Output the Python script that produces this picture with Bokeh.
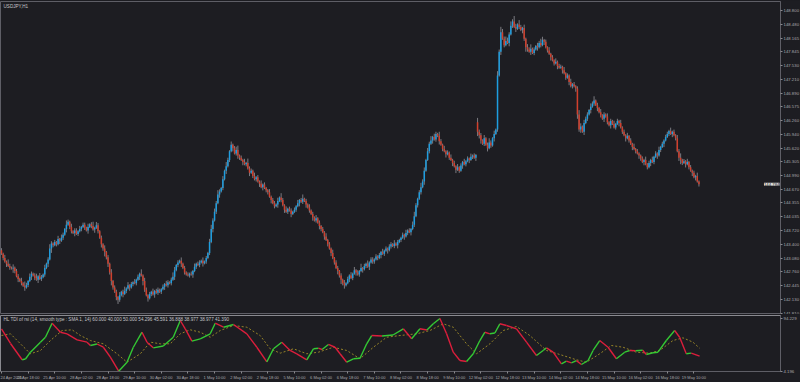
from bokeh.plotting import figure
from bokeh.layouts import column
from bokeh.models import Range1d, FixedTicker, Label, PrintfTickFormatter
from bokeh.embed import file_html
from bokeh.resources import INLINE

symbol_title = "USDJPY,H1"
indicator_title = ("HL TDI of rsi (14, smooth type : SMA 1, 14) 60.000 40.000 50.000 "
                   "54.296 45.591 36.888 38.977 38.977 41.390")
last_price = 144.784
first_open = 143.26
gap_opens = {286: 146.22}

# hourly closes, week by week
close_wk1 = [143.18, 143.08, 143.00, 142.95, 142.90, 142.86, 142.84, 142.86, 142.78, 142.66, 142.60, 142.55, 142.50, 142.44, 142.40, 142.46,
             142.55, 142.65, 142.72, 142.68, 142.62, 142.58, 142.66, 142.60, 142.64, 142.70, 142.85, 142.95, 143.05, 143.30, 143.42, 143.38,
             143.45, 143.40, 143.52, 143.48, 143.55, 143.62, 143.75, 143.85, 143.92, 143.80, 143.70, 143.66, 143.72, 143.64]
close_wk2 = [143.70, 143.75,
             143.80, 143.85, 143.78, 143.72, 143.80, 143.86, 143.82, 143.74, 143.78, 143.84, 143.70, 143.55, 143.40, 143.30, 143.22, 143.10,
             142.95, 142.75, 142.55, 142.40, 142.30, 142.18, 142.12, 142.22, 142.30, 142.25, 142.32, 142.38, 142.45, 142.40, 142.48, 142.52,
             142.50, 142.58, 142.65, 142.72, 142.68, 142.55, 142.35, 142.22, 142.15, 142.25, 142.30, 142.24, 142.32, 142.28, 142.35, 142.30,
             142.36, 142.42, 142.48, 142.45, 142.52, 142.50, 142.58, 142.65, 142.80, 142.92, 142.98, 143.02, 142.95, 142.85, 142.75, 142.70,
             142.68, 142.72, 142.70, 142.78, 142.88, 142.95, 142.92, 142.98, 143.02, 142.96, 143.00, 143.08, 143.20, 143.45, 143.75, 143.95,
             144.15, 144.35, 144.55, 144.62, 144.70, 144.90, 145.10, 145.20, 145.35, 145.55, 145.70, 145.62, 145.50, 145.58, 145.45, 145.40,
             145.35, 145.30, 145.25, 145.28, 145.15, 145.05, 145.10, 144.98, 144.90, 144.95, 144.85, 144.80, 144.72, 144.78, 144.70, 144.65,
             144.60, 144.50, 144.42, 144.35, 144.28, 144.32]
close_wk3 = [144.40, 144.48, 144.42, 144.30, 144.20, 144.15, 144.22, 144.18, 144.10, 144.15,
             144.20, 144.28, 144.35, 144.42, 144.38, 144.45, 144.40, 144.32, 144.25, 144.18, 144.10, 144.02, 143.95, 144.00, 143.90, 143.82,
             143.75, 143.68, 143.58, 143.50, 143.40, 143.30, 143.20, 143.08, 142.98, 142.85, 142.78, 142.68, 142.58, 142.50, 142.45, 142.50,
             142.60, 142.68, 142.62, 142.72, 142.80, 142.75, 142.70, 142.78, 142.85, 142.82, 142.90, 142.95, 142.88, 142.98, 143.05, 143.00,
             143.05, 143.12, 143.08, 143.15, 143.22, 143.18, 143.25, 143.30, 143.26, 143.35, 143.40, 143.36, 143.42, 143.38, 143.45, 143.50,
             143.55, 143.62, 143.58, 143.66, 143.72, 143.68, 143.75, 143.85, 144.05, 144.30, 144.45, 144.60, 144.72, 144.85, 145.10, 145.35,
             145.55, 145.72, 145.80, 145.88, 145.82, 145.95, 145.90, 145.78, 145.70, 145.60, 145.55, 145.48, 145.52, 145.40, 145.35, 145.28,
             145.20, 145.12, 145.18, 145.10, 145.22, 145.30, 145.25, 145.32, 145.38, 145.35, 145.42, 145.45, 145.40, 145.46]
close_wk4 = [146.00, 145.92,
             145.80, 145.72, 145.85, 145.70, 145.62, 145.75, 145.68, 145.85, 145.95, 146.05, 147.30, 147.85, 148.30, 148.15, 148.00, 148.10,
             148.05, 148.25, 148.45, 148.55, 148.42, 148.38, 148.48, 148.42, 148.35, 148.40, 148.15, 147.95, 147.90, 147.85, 147.92, 147.82,
             147.90, 147.98, 147.95, 148.05, 148.00, 148.12, 148.08, 147.95, 147.88, 147.80, 147.72, 147.65, 147.58, 147.62, 147.52, 147.48,
             147.50, 147.42, 147.35, 147.25, 147.30, 147.15, 147.05, 147.10, 147.05, 147.00, 146.40, 146.05, 146.12, 146.00, 146.20, 146.30,
             146.40, 146.50, 146.58, 146.65, 146.72, 146.62, 146.55, 146.45, 146.38, 146.30, 146.40, 146.35, 146.22, 146.15, 146.25, 146.18,
             146.10, 146.18, 146.25, 146.20, 146.10, 146.00, 145.92, 145.85, 145.90, 145.80, 145.72, 145.65, 145.60, 145.55, 145.50, 145.45,
             145.38, 145.30, 145.35, 145.25, 145.18, 145.28, 145.35, 145.30, 145.42, 145.50, 145.45, 145.58, 145.65, 145.72, 145.80, 145.88,
             145.95, 146.02, 145.95, 146.00, 145.92, 145.85]
close_wk5 = [145.55, 145.40, 145.35, 145.28, 145.32, 145.25, 145.30, 145.18, 145.10, 145.05, 144.95, 144.98, 144.85, 144.784]

# wick lengths (units of 0.025 JPY), 16 bars per block
wick_up = ["2131421312213142", "1321241321312421", "2131321421312213", "1221312413212131",
           "2131221312413121", "3121413212131221", "1213212431213121", "2121312213121342",
           "3242131421312341", "2131422131213121", "1312213142131221", "2131241213121312",
           "1213121312212131", "2131312141213122", "1212131212213121", "1213121342124231",
           "3241321421312131", "2131213121312142", "2131242131425324", "3242531421313241",
           "2132431213121312", "2131213121243132", "2132412131213121", "3121312131213121",
           "1213121312131212", "2131213241213121", "2131"]
wick_dn = ["1213121421312131", "2131213121213142", "1213121312213121", "2121312131213242",
           "3242134213121312", "1213142131213121", "2131212131213121", "1213121213121213",
           "1213121312131232", "1312131212131312", "2131213121312131", "1213121312131213",
           "2131213121324231", "1312131213121312", "2121312131212131", "2131213121212131",
           "1213121312131213", "1312131213121343", "3121312131213121", "1312131213242131",
           "2131213121312131", "1312131213423131", "2131213121312131", "1213121312131213",
           "2131213121312131", "1213121342131213", "1312"]
wick_unit = 0.025

# date axis
date_labels = ["24 Apr 2025", "24 Apr 18:00", "25 Apr 10:00", "28 Apr 02:00", "28 Apr 18:00",
               "29 Apr 10:00", "30 Apr 02:00", "30 Apr 18:00", "1 May 10:00", "2 May 02:00",
               "2 May 18:00", "5 May 10:00", "6 May 02:00", "6 May 18:00", "7 May 10:00",
               "8 May 02:00", "8 May 18:00", "9 May 10:00", "12 May 02:00", "12 May 18:00",
               "13 May 10:00", "14 May 02:00", "14 May 18:00", "15 May 10:00", "16 May 02:00",
               "16 May 18:00", "19 May 10:00"]
bars_per_label = 16

price_ticks = [148.800, 148.480, 148.165, 147.845, 147.530, 147.210, 146.890, 146.575,
               146.260, 145.940, 145.620, 145.305, 144.990, 144.670, 144.355, 144.035,
               143.720, 143.400, 143.080, 142.760, 142.445, 142.130, 141.810]
ind_ticks = [94.229, 4.196]

# TDI: RSI line (bar index, value) and signal line
rsi_bar = [0, 5.4, 12.4, 14.4, 17.4, 23.4, 26.4, 30.4, 35.4, 39.4, 45.4, 51.4, 53.4, 57.4, 61.2,
           65.4, 70.4, 75.4, 79.2, 84.4, 87.4, 91.2, 97.2, 103.2, 107.4, 110.4, 114.4, 119.4,
           125.4, 128.4, 133.4, 139.4, 147.4, 153.4, 159.4, 163.4, 168.4, 173.4, 177.4, 183.4,
           187.4, 190.4, 192.6, 196.4, 200.4, 203.4, 207.4, 211.4, 215.4, 219.4, 222.4, 228.6,
           235.2, 241.4, 246.4, 251.4, 255.6, 259.4, 263.4, 267.4, 271.4, 275.4, 279.4, 283.4,
           287.4, 290.4, 293.4, 296.4, 299.4, 303.4, 309.4, 315.4, 321.4, 325.4, 327.4, 331.4,
           336.4, 339.4, 342.4, 345.4, 348.4, 352.4, 355.4, 359.4, 364.4, 369.4, 374.4, 377.4,
           381.0, 385.2, 387.4, 391.4, 394.4, 399.4, 404.4, 407.4, 411.4, 414.4, 419.4]
rsi_val = [76.2, 51.3, 23.6, 24.9, 36.5, 53.5, 61.9, 85.7, 70.4, 67.7, 57.5, 53.5, 47.9, 50.4, 44.9,
           28.0, 4.2, 19.5, 44.9, 70.4, 53.5, 43.9, 47.0, 61.9, 90.3, 76.2, 55.2, 59.2,
           67.7, 85.7, 78.9, 83.5, 67.7, 44.9, 20.0, 42.3, 53.5, 39.4, 33.8, 23.6,
           42.3, 43.3, 41.1, 49.6, 44.9, 33.8, 19.5, 25.3, 26.1, 50.7, 64.8, 64.0,
           65.7, 76.2, 59.2, 76.2, 74.2, 84.7, 93.7, 67.7, 36.5, 22.4, 20.7, 33.8,
           56.3, 70.4, 67.7, 69.1, 84.7, 81.8, 76.2, 53.5, 30.9, 39.4, 43.9, 36.5,
           16.8, 21.2, 18.2, 22.1, 15.6, 22.4, 39.4, 56.3, 44.9, 25.3, 36.5, 39.4,
           38.9, 39.7, 32.6, 35.5, 36.5, 56.3, 73.3, 61.9, 33.8, 34.9, 29.7]
sig_bar = [0, 5.4, 11.4, 17.4, 23.4, 29.4, 36.4, 42.4, 47.4, 53.4, 61.2, 69.4, 75.4, 83.4, 89.4,
           95.4, 101.4, 107.4, 113.4, 119.4, 125.4, 131.4, 139.4, 147.4, 155.4, 161.4, 167.4,
           175.4, 183.4, 190.4, 199.4, 207.4, 215.4, 223.4, 231.4, 239.4, 249.4, 257.4, 265.4,
           271.4, 279.4, 285.4, 293.4, 301.4, 309.4, 317.4, 327.4, 335.4, 345.4, 351.4, 359.4,
           366.4, 373.4, 381.4, 389.4, 395.4, 403.4, 409.4, 415.4, 419.4]
sig_val = [64.8, 67.7, 50.7, 33.8, 39.4, 56.3, 73.3, 74.5, 64.8, 56.3, 50.7, 33.8, 19.5, 33.8, 53.5,
           50.7, 50.7, 67.7, 74.5, 70.4, 61.9, 73.3, 81.8, 78.9, 64.8, 42.3, 34.8,
           42.3, 33.8, 36.5, 44.9, 39.4, 25.3, 44.9, 61.9, 64.8, 67.7, 73.3, 84.7,
           78.9, 50.7, 33.8, 50.7, 73.3, 80.1, 64.8, 39.4, 32.6, 23.6, 19.5, 33.8,
           47.9, 44.9, 36.5, 34.8, 39.4, 56.3, 60.9, 53.5, 43.3]

# ---------------------------------------------------------------- derived
closes = close_wk1 + close_wk2 + close_wk3 + close_wk4 + close_wk5
ups = [int(ch) for ch in "".join(wick_up)]
dns = [int(ch) for ch in "".join(wick_dn)]
n = len(closes)
assert len(ups) == n and len(dns) == n, (n, len(ups), len(dns))
idx = list(range(n))
opens = [first_open] + closes[:-1]
for k, v in gap_opens.items():
    opens[k] = v
tops = [max(o, c) for o, c in zip(opens, closes)]
bots = [min(o, c) for o, c in zip(opens, closes)]
highs = [t + u * wick_unit for t, u in zip(tops, ups)]
lows = [b - d * wick_unit for b, d in zip(bots, dns)]

BG = "#1d1d22"
FRAME = "#5e5e66"
TXT = "#a8a8ac"
UP = "#1e9ee0"
DOWN = "#d23f2c"
WICK = "#7a7a80"
FONT = "Liberation Sans"
FW = 780
FH1 = 312

xr = Range1d(-0.6, 468)

p1 = figure(frame_width=FW, frame_height=FH1, x_range=xr, y_range=Range1d(141.80, 149.01),
            output_backend="svg", toolbar_location=None, x_axis_location=None,
            y_axis_location="right", min_border_left=0, min_border_top=1, min_border_bottom=1,
            min_border_right=0)
p1.background_fill_color = BG
p1.border_fill_color = BG
p1.outline_line_color = FRAME
p1.grid.visible = False

p1.segment(x0=idx, y0=lows, x1=idx, y1=highs, line_color=WICK, line_width=1)
body_col = [UP if c >= o else DOWN for o, c in zip(opens, closes)]
p1.vbar(x=idx, width=0.9, top=tops, bottom=bots, fill_color=body_col, line_color=None)

ya = p1.yaxis[0]
ya.ticker = FixedTicker(ticks=price_ticks)
ya.formatter = PrintfTickFormatter(format="%.3f")
ya.axis_line_color = FRAME
ya.major_tick_line_color = "#8a8a8e"
ya.major_tick_out = 2
ya.major_tick_in = 0
ya.minor_tick_line_color = None
ya.major_label_text_color = TXT
ya.major_label_text_font = FONT
ya.major_label_text_font_size = "4.3px"
ya.major_label_standoff = 1

p1.add_layout(Label(x=3, y=FH1 - 5, x_units="screen", y_units="screen", text=symbol_title,
                    text_color="#c4c4c8", text_font=FONT, text_font_size="4.6px",
                    text_baseline="middle"))
p1.add_layout(Label(x=FW - 1, y=last_price, x_units="screen", y_units="data",
                    text="%.3f" % last_price, text_color="#1d1d22",
                    level="overlay", text_align="right",
                    text_font=FONT, text_font_size="4.3px", text_baseline="middle",
                    background_fill_color="#dcdcdc"))

p2 = figure(frame_width=FW, frame_height=56, x_range=xr, y_range=Range1d(3.7, 98.8),
            output_backend="svg", toolbar_location=None, y_axis_location="right",
            min_border_left=0, min_border_top=1, min_border_bottom=0, min_border_right=0)
p2.background_fill_color = BG
p2.border_fill_color = BG
p2.outline_line_color = "#8a8a90"
p2.grid.visible = False

p2.line(sig_bar, sig_val, line_color="#978428", line_width=1, line_dash="2 2")
seg_col = ["#34c834" if b >= a else "#dc1e3c" for a, b in zip(rsi_val[:-1], rsi_val[1:])]
p2.segment(x0=rsi_bar[:-1], y0=rsi_val[:-1], x1=rsi_bar[1:], y1=rsi_val[1:],
           line_color=seg_col, line_width=1.4)

p2.add_layout(Label(x=3, y=52, x_units="screen", y_units="screen", text=indicator_title,
                    text_color="#c4c4c8", text_font=FONT, text_font_size="4.6px",
                    text_baseline="middle"))

ya2 = p2.yaxis[0]
ya2.ticker = FixedTicker(ticks=ind_ticks)
ya2.major_label_overrides = {t: "%.3f" % t for t in ind_ticks}
ya2.axis_line_color = FRAME
ya2.major_tick_line_color = "#8a8a8e"
ya2.major_tick_out = 2
ya2.major_tick_in = 0
ya2.minor_tick_line_color = None
ya2.major_label_text_color = TXT
ya2.major_label_text_font = FONT
ya2.major_label_text_font_size = "4.3px"
ya2.major_label_standoff = 1

tick_pos = [k * bars_per_label for k in range(len(date_labels))]
xa = p2.xaxis[0]
xa.ticker = FixedTicker(ticks=tick_pos)
xa.major_label_overrides = {t: lab for t, lab in zip(tick_pos, date_labels)}
xa.axis_line_color = FRAME
xa.major_tick_line_color = "#8a8a8e"
xa.major_tick_out = 2
xa.major_tick_in = 0
xa.minor_tick_line_color = None
xa.major_label_text_color = TXT
xa.major_label_text_font = FONT
xa.major_label_text_font_size = "4px"
xa.major_label_text_align = "left"
xa.major_label_standoff = 1

layout = column(p1, p2, spacing=0, styles={"background-color": BG})
open("out.html", "w").write(file_html(layout, INLINE))
